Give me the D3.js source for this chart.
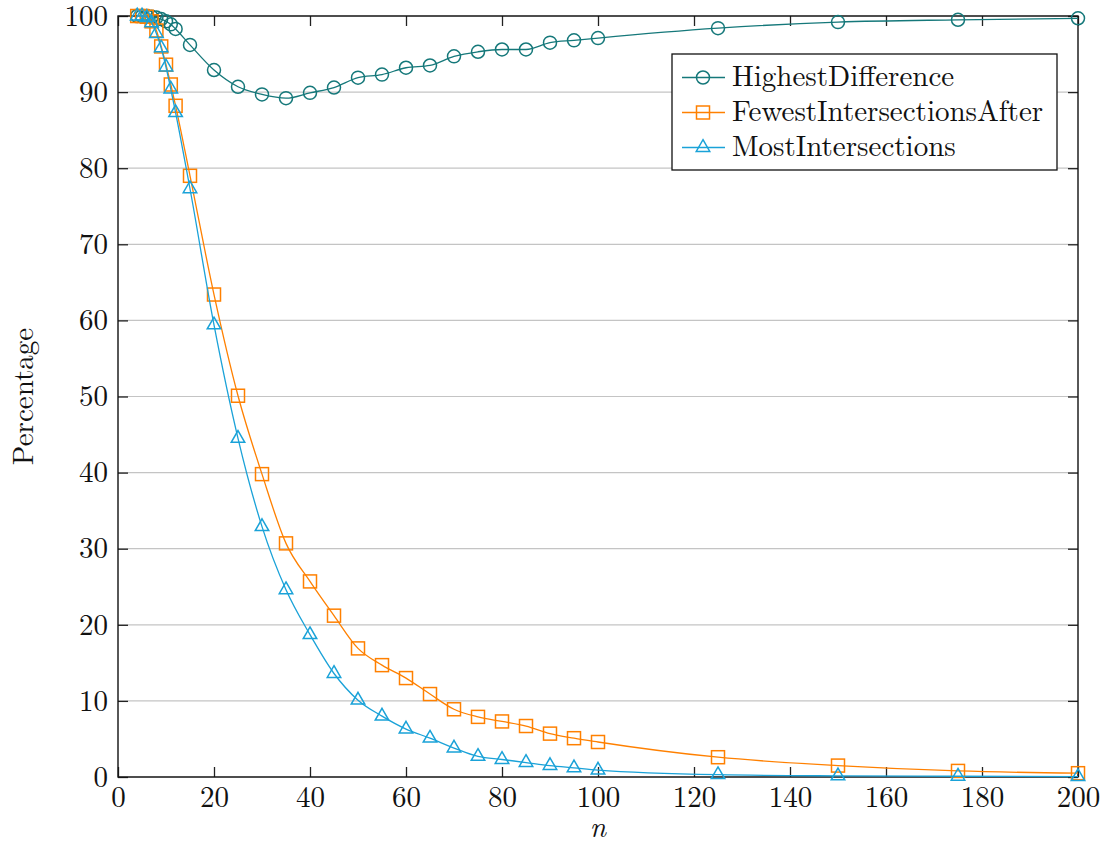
<!DOCTYPE html>
<meta charset="utf-8">
<style type="text/css">
    body{
        margin: 0;
        background: white;
    }
    svg{
        display: block;
    }
</style>
<body>
<script src="https://cdn.jsdelivr.net/npm/d3@7"></script>
<script>

//values
var nValues = [4, 5, 6, 7, 8, 9, 10, 11, 12, 15, 20, 25, 30, 35, 40, 45, 50, 55, 60, 65, 70, 75, 80, 85, 90, 95, 100, 125, 150, 175, 200];

var highestDifference = [100, 100, 100, 99.9, 99.8, 99.6, 99.3, 98.9, 98.3, 96.2, 92.9, 90.7, 89.7, 89.2, 89.9, 90.6, 91.9, 92.3, 93.2, 93.5, 94.7, 95.3, 95.6, 95.6, 96.5, 96.8, 97.1, 98.4, 99.2, 99.5, 99.7];

var fewestIntersectionsAfter = [100, 100, 99.9, 99.3, 98.1, 96.0, 93.6, 91.0, 88.2, 79.0, 63.4, 50.1, 39.8, 30.7, 25.7, 21.2, 16.9, 14.7, 13.0, 10.9, 8.9, 7.9, 7.3, 6.7, 5.7, 5.1, 4.6, 2.6, 1.5, 0.8, 0.5];

var mostIntersections = [100, 100, 99.8, 99.1, 97.7, 95.8, 93.3, 90.4, 87.3, 77.3, 59.4, 44.5, 32.9, 24.6, 18.7, 13.6, 10.1, 8.0, 6.3, 5.1, 3.8, 2.7, 2.3, 1.9, 1.5, 1.2, 0.9, 0.3, 0.15, 0.1, 0.05];

var seriesNames = ["HighestDifference", "FewestIntersectionsAfter", "MostIntersections"];
var seriesColors = ["#15787a", "#ff8000", "#1aa2d8"];
var seriesMarkers = ["circle", "square", "triangle"];

var xTicks = [0, 20, 40, 60, 80, 100, 120, 140, 160, 180, 200];
var yTicks = [0, 10, 20, 30, 40, 50, 60, 70, 80, 90, 100];

//fonts
var fontFamily = "'Latin Modern Roman', 'Liberation Serif', serif";
var fontSize = 29;

//size of the page and the plot box
var width = 1106, height = 845;
var margin = {top: 16, right: 28, bottom: 68, left: 118};

var svg = d3.select("body")
  .append("svg")
  .attr("width", width)
  .attr("height", height);

var x = d3.scaleLinear()
  .domain([0, 200])
  .range([margin.left, width - margin.right]);

var y = d3.scaleLinear()
  .domain([0, 100])
  .range([height - margin.bottom, margin.top]);

//horizontal grid lines
svg.append("g")
  .selectAll("line")
  .data(yTicks)
  .enter()
  .append("line")
  .attr("x1", x(0))
  .attr("x2", x(200))
  .attr("y1", function(d){ return y(d); })
  .attr("y2", function(d){ return y(d); })
  .attr("stroke", "#c4c4c4")
  .attr("stroke-width", 1.2);

//axes with inward ticks on all four sides
var tickLen = 10;

var bottomAxis = svg.append("g")
  .attr("transform", "translate(0," + y(0) + ")")
  .call(d3.axisBottom(x).tickValues(xTicks).tickSize(-tickLen).tickPadding(9).tickSizeOuter(0));

var topAxis = svg.append("g")
  .attr("transform", "translate(0," + y(100) + ")")
  .call(d3.axisTop(x).tickValues(xTicks).tickSize(-tickLen).tickFormat("").tickSizeOuter(0));

var leftAxis = svg.append("g")
  .attr("transform", "translate(" + x(0) + ",0)")
  .call(d3.axisLeft(y).tickValues(yTicks).tickSize(-tickLen).tickPadding(10).tickSizeOuter(0));

var rightAxis = svg.append("g")
  .attr("transform", "translate(" + x(200) + ",0)")
  .call(d3.axisRight(y).tickValues(yTicks).tickSize(-tickLen).tickFormat("").tickSizeOuter(0));

[bottomAxis, topAxis, leftAxis, rightAxis].forEach(function(a){
  a.select(".domain").remove();
  a.selectAll(".tick line").attr("stroke", "#222").attr("stroke-width", 1.3);
  a.selectAll(".tick text")
    .style("font-size", fontSize + "px")
    .style("font-family", fontFamily)
    .attr("fill", "#111");
});

//axis box
svg.append("rect")
  .attr("x", x(0))
  .attr("y", y(100))
  .attr("width", x(200) - x(0))
  .attr("height", y(0) - y(100))
  .attr("fill", "none")
  .attr("stroke", "#111")
  .attr("stroke-width", 1.4);

//axis titles
svg.append("text")
  .attr("x", x(100))
  .attr("y", 837)
  .attr("text-anchor", "middle")
  .style("font-family", fontFamily)
  .style("font-size", fontSize + "px")
  .style("font-style", "italic")
  .attr("fill", "#111")
  .text("n");

svg.append("text")
  .attr("transform", "translate(33," + y(50) + ") rotate(-90)")
  .attr("text-anchor", "middle")
  .style("font-family", fontFamily)
  .style("font-size", fontSize + "px")
  .attr("fill", "#111")
  .text("Percentage");

//marker shapes
var markerSize = 6.5;
function drawMarker(sel, type, color){
  if(type == "circle"){
    sel.append("circle").attr("r", markerSize);
  } else if(type == "square"){
    sel.append("rect")
      .attr("x", -markerSize).attr("y", -markerSize)
      .attr("width", markerSize * 2).attr("height", markerSize * 2);
  } else {
    var r = markerSize * 1.2;
    sel.append("path")
      .attr("d", "M0," + (-r) + "L" + (0.866 * r) + "," + (0.5 * r) + "L" + (-0.866 * r) + "," + (0.5 * r) + "Z");
  }
  sel.selectAll("*")
    .attr("fill", "none")
    .attr("stroke", color)
    .attr("stroke-width", 1.5);
}

var line = d3.line()
  .x(function(d){ return x(d.n); })
  .y(function(d){ return y(d.v); })
  .curve(d3.curveMonotoneX);

var allSeries = [highestDifference, fewestIntersectionsAfter, mostIntersections];

allSeries.forEach(function(vals, i){
  var pts = nValues.map(function(n, j){ return {n: n, v: vals[j]}; });
  var g = svg.append("g");

  g.append("path")
    .datum(pts)
    .attr("d", line)
    .attr("fill", "none")
    .attr("stroke", seriesColors[i])
    .attr("stroke-width", 1.3);

  g.selectAll(".mk")
    .data(pts)
    .enter()
    .append("g")
    .attr("class", "mk")
    .attr("transform", function(d){ return "translate(" + x(d.n) + "," + y(d.v) + ")"; })
    .each(function(){ drawMarker(d3.select(this), seriesMarkers[i], seriesColors[i]); });
});

//legend
var legend = svg.append("g")
  .attr("transform", "translate(672,54)");

legend.append("rect")
  .attr("width", 385)
  .attr("height", 116)
  .attr("fill", "white")
  .attr("stroke", "#111")
  .attr("stroke-width", 1.3);

seriesNames.forEach(function(name, i){
  var row = legend.append("g")
    .attr("transform", "translate(0," + (23.5 + i * 35) + ")");

  row.append("line")
    .attr("x1", 10).attr("x2", 53)
    .attr("stroke", seriesColors[i])
    .attr("stroke-width", 1.3);

  var mk = row.append("g").attr("transform", "translate(31,0)");
  drawMarker(mk, seriesMarkers[i], seriesColors[i]);

  row.append("text")
    .attr("x", 60)
    .attr("y", 8)
    .style("font-family", fontFamily)
    .style("font-size", fontSize + "px")
    .attr("fill", "#111")
    .text(name);
});

</script>
</body>
